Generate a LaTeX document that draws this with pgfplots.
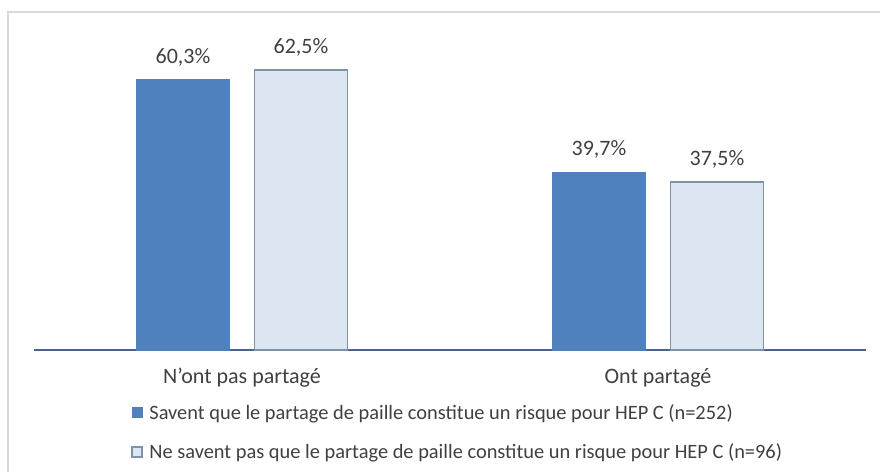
\documentclass[border=0pt]{standalone}
\usepackage{pgfplots}
\pgfplotsset{compat=1.18}
\usepackage{fontspec}
\setmainfont{Carlito}
\definecolor{barblue}{HTML}{4F81BD}
\definecolor{barlight}{HTML}{DCE6F2}
\definecolor{barlightedge}{HTML}{7F91AB}
\definecolor{axisline}{HTML}{4A6587}
\definecolor{labelgray}{HTML}{404040}
\definecolor{framegray}{HTML}{D9D9D9}

\begin{document}
\begin{tikzpicture}
\useasboundingbox (0pt,0pt) rectangle (660pt,354pt);
% outer chart frame (cut at right and bottom)
\draw[framegray, line width=1.5pt] (6pt,0pt) -- (6pt,345pt) -- (660pt,345pt);

\begin{axis}[
    at={(25.5pt,91.5pt)}, anchor=south west,
    scale only axis,
    width=624pt, height=240pt,
    ybar=18.75pt,
    bar width=69.75pt,
    xmin=-0.5, xmax=1.5,
    ymin=0, ymax=71.4,
    xtick=data,
    xticklabels={N{\char"27}ont pas partagé, Ont partagé},
    major tick length=0pt,
    hide y axis,
    axis x line*=bottom,
    x axis line style={-, draw=axisline, line width=1pt},
    xticklabel style={anchor=center, yshift=-21pt, font=\fontsize{16.5}{19}\selectfont, text=labelgray},
    /pgf/number format/assume math mode=true,
    nodes near coords={\pgfmathprintnumber[fixed,fixed zerofill,precision=1,use comma]{\pgfplotspointmeta}\%},
    every node near coord/.append style={anchor=center, yshift=17pt, font=\fontsize{16.5}{19}\selectfont, text=labelgray},
    legend style={at={(0.1166,-0.16)}, anchor=north west, draw=none, fill=none,
        font=\fontsize{15.3}{18}\selectfont, text=labelgray,
        row sep=13pt, column sep=3pt, inner sep=0pt, cells={anchor=west}},
    legend cell align=left,
    legend image code/.code={\draw[#1] (0pt,-3.75pt) rectangle (7.5pt,3.75pt);},
]
\addplot[fill=barblue, draw=barblue] coordinates {(0,60.3) (1,39.7)};
\addplot[fill=barlight, draw=barlightedge, line width=1.1pt] coordinates {(0,62.5) (1,37.5)};
\legend{Savent que le partage de paille constitue un risque pour HEP C (n=252),
        Ne savent pas que le partage de paille constitue un risque pour HEP C (n=96)}
\end{axis}
\end{tikzpicture}
\end{document}
